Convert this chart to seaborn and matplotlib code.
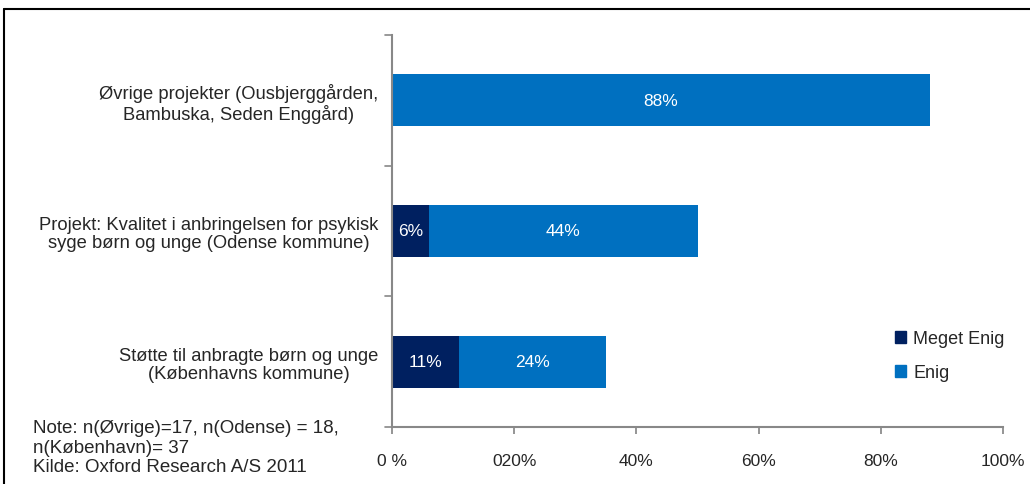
import matplotlib
matplotlib.use("Agg")
import matplotlib.pyplot as plt
import seaborn as sns
import pandas as pd
from matplotlib.patches import Patch

categories = [
    "Øvrige projekter (Ousbjerggården,\nBambuska, Seden Enggård)",
    "Projekt: Kvalitet i anbringelsen for psykisk\nsyge børn og unge (Odense kommune)",
    "Støtte til anbragte børn og unge\n(Københavns kommune)",
]
meget_enig = [0, 6, 11]
enig = [88, 44, 24]
series_names = ["Meget Enig", "Enig"]
tick_values = [0, 20, 40, 60, 80, 100]
tick_labels = ["0 %", "020%", "40%", "60%", "80%", "100%"]
note = "Note: n(Øvrige)=17, n(Odense) = 18,\nn(København)= 37\nKilde: Oxford Research A/S 2011"

dark = "#002060"
blue = "#0070C0"

sns.set_theme(style="white")
plt.rcParams["font.family"] = ["Liberation Sans", "DejaVu Sans"]

df = pd.DataFrame({"cat": categories, "meget": meget_enig, "enig": enig})
df["total"] = df["meget"] + df["enig"]

fig = plt.figure(figsize=(10.3, 4.85), dpi=100)
ax = fig.add_axes([392/1030, 1-428/485, (1003-392)/1030, (428-36)/485])

sns.barplot(data=df, y="cat", x="total", orient="h", color=blue, saturation=1,
            width=0.4, ax=ax, edgecolor="none")
sns.barplot(data=df, y="cat", x="meget", orient="h", color=dark, saturation=1,
            width=0.4, ax=ax, edgecolor="none")

for i, (m, e) in enumerate(zip(meget_enig, enig)):
    if m > 0:
        ax.text(m/2, i, f"{m}%", color="white", ha="center", va="center", fontsize=12.5)
    if e > 0:
        ax.text(m + e/2, i, f"{e}%", color="white", ha="center", va="center", fontsize=12.5)

ax.set_xlim(0, 100)
ax.set_ylim(2.5, -0.5)
ax.set_xticks(tick_values)
ax.set_xticklabels(tick_labels, fontsize=12.5)
ax.set_yticks([0, 1, 2])
ax.set_yticklabels(categories, fontsize=13.2, ha="right", multialignment="center",
                   linespacing=1.1)
ax.tick_params(axis="y", length=0, pad=10)
ax.tick_params(axis="x", length=5, pad=14, color="#888888", direction="out", bottom=True)
for yb in [-0.5, 0.5, 1.5, 2.5]:
    ax.plot([-0.012, 0], [yb, yb], transform=ax.get_yaxis_transform(), color="#888888",
            lw=1.2, clip_on=False)
ax.set_xlabel("")
ax.set_ylabel("")
for s in ["top", "right"]:
    ax.spines[s].set_visible(False)
for s in ["left", "bottom"]:
    ax.spines[s].set_color("#888888")
    ax.spines[s].set_linewidth(1.5)

handles = [Patch(color=dark, label=series_names[0]), Patch(color=blue, label=series_names[1])]
fig.legend(handles=handles, loc="upper left", bbox_to_anchor=(888/1030, 1-324/485),
           frameon=False, fontsize=13, handlelength=0.6, handleheight=0.6,
           handletextpad=0.4, labelspacing=0.95, borderaxespad=0)

fig.text(33/1030, 1-420/485, note, fontsize=13.5, va="top", ha="left", linespacing=1.2)

fig.add_artist(plt.Line2D([4/1030, 4/1030], [0, 1-10/485], color="black", lw=1.5,
                          transform=fig.transFigure))
fig.add_artist(plt.Line2D([4/1030, 1], [1-10/485, 1-10/485], color="black", lw=1.5,
                          transform=fig.transFigure))

fig.savefig("out.png", dpi=100)
